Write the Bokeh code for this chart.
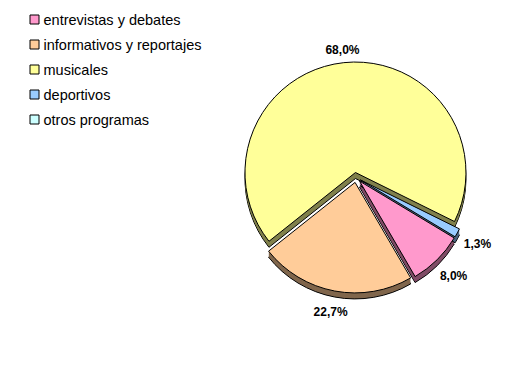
import math
from bokeh.plotting import figure
from bokeh.models import Range1d
from bokeh.core.properties import value
from bokeh.embed import file_html
from bokeh.resources import INLINE

# ---- data ----
categories = ["entrevistas y debates", "informativos y reportajes", "musicales",
              "deportivos", "otros programas"]
percentages = [8.0, 22.7, 68.0, 1.3, 0.0]
labels = ["8,0%", "22,7%", "68,0%", "1,3%", "0,0%"]
face_colors = ["#FF99CC", "#FFCC99", "#FFFF99", "#99CCFF", "#CCFFFF"]
side_colors = ["#804C66", "#80664C", "#80804C", "#4C6680", "#668080"]

# ---- layout ----
W, H = 530, 365
cx_px, cy_px = 355.5, 177.0      # pie centre (pixels from top-left)
radius = 110.5
explode = 5.0
depth = 6
first_bearing = 121.0            # degrees clockwise from 12 o'clock

p = figure(width=W, height=H, x_range=Range1d(0, W), y_range=Range1d(0, H),
           output_backend="svg", toolbar_location=None,
           x_axis_location=None, y_axis_location=None, min_border=0)
p.outline_line_color = None
p.grid.visible = False
p.background_fill_color = "white"
p.border_fill_color = "white"

def ydata(y_px):
    return H - y_px

slices = []
acc = 0.0
for i, v in enumerate(percentages):
    b0 = first_bearing + acc * 3.6
    acc += v
    b1 = first_bearing + acc * 3.6
    bm = math.radians((b0 + b1) / 2)
    dx, dy_px = math.sin(bm), -math.cos(bm)
    cx = cx_px + explode * dx
    cy = cy_px + explode * dy_px
    start = math.radians(90 - b1)
    end = math.radians(90 - b0)
    slices.append((i, v, cx, cy, start, end, dx, dy_px))

# shadows (sides)
for i, v, cx, cy, start, end, dx, dy in slices:
    if v <= 0:
        continue
    p.wedge(x=cx, y=ydata(cy + depth), radius=radius, start_angle=start, end_angle=end,
            fill_color=side_colors[i], line_color="black", line_width=1)
    for d in range(depth - 1, 0, -1):
        p.wedge(x=cx, y=ydata(cy + d), radius=radius, start_angle=start, end_angle=end,
                fill_color=side_colors[i], line_color=None)

# top faces
for i, v, cx, cy, start, end, dx, dy in slices:
    if v <= 0:
        continue
    p.wedge(x=cx, y=ydata(cy), radius=radius, start_angle=start, end_angle=end,
            fill_color=face_colors[i], line_color="black", line_width=1)

# data labels
for i, v, cx, cy, start, end, dx, dy in slices:
    if v <= 0:
        continue
    d = 127 + 9 * max(dy, 0) + 8 * abs(dx)
    lx = cx_px + d * dx
    ly = cy_px + d * dy
    p.text(x=[lx], y=[ydata(ly)], text=[labels[i]], text_align="center",
           text_baseline="middle", text_font=value("Liberation Sans"),
           text_font_size="12px", text_font_style="bold", text_color="black")

# legend
for i, name in enumerate(categories):
    ry = 19 + 25 * i
    p.scatter(x=[34], y=[ydata(ry)], marker="square", size=9,
              fill_color=face_colors[i], line_color="black", line_width=1)
    p.text(x=[43], y=[ydata(ry)], text=[name], text_align="left",
           text_baseline="middle", text_font=value("Liberation Sans"),
           text_font_size="14.5px", text_color="black")

open("out.html", "w").write(file_html(p, INLINE))
